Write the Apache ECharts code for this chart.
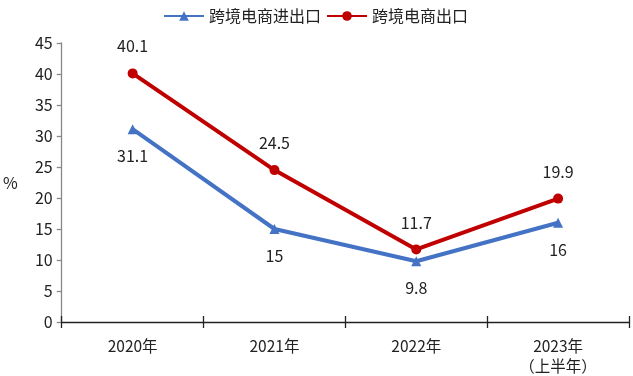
<!DOCTYPE html>
<html>
<head>
<meta charset="utf-8">
<script src="https://cdn.jsdelivr.net/npm/echarts@6/dist/echarts.min.js"></script>
<style>html,body{margin:0;padding:0;background:#fff}#c{width:633px;height:376px}</style>
</head>
<body>
<div id="c"></div>
<script>
const categories = ['2020年', '2021年', '2022年', '2023年\n（上半年）'];
const seriesNames = ['跨境电商进出口', '跨境电商出口'];
const importExport = [31.1, 15, 9.8, 16];
const exportOnly = [40.1, 24.5, 11.7, 19.9];
const yTicks = { min: 0, max: 45, interval: 5 };

const font = '"Noto Sans CJK SC", "Noto Sans", sans-serif';
const chart = echarts.init(document.getElementById('c'));
chart.setOption({
  animation: false,
  textStyle: { fontFamily: font },
  legend: {
    top: 3, left: 158, itemGap: 5, itemWidth: 40, itemHeight: 12,
    textStyle: { fontSize: 16, color: '#222', fontFamily: font },
    data: seriesNames
  },
  grid: { left: 58, right: 4, top: 43, bottom: 50, containLabel: false },
  xAxis: [{
    type: 'category', data: categories, boundaryGap: true,
    axisLine: { lineStyle: { color: '#222', width: 1.3 } },
    axisTick: { show: true, length: 6, lineStyle: { color: '#222', width: 1.3 } },
    axisLabel: { fontSize: 15.5, color: '#222', margin: 14, lineHeight: 20, fontFamily: font }
  }, {
    type: 'category', data: categories, boundaryGap: true, position: 'bottom',
    axisLine: { show: false },
    axisTick: { show: true, inside: true, length: 6, lineStyle: { color: '#222', width: 1.3 } },
    axisLabel: { show: false }
  }],
  yAxis: {
    type: 'value', min: yTicks.min, max: yTicks.max, interval: yTicks.interval,
    name: '%', nameLocation: 'middle', nameRotate: 0, nameGap: 44,
    nameTextStyle: { fontSize: 16, color: '#222', fontFamily: font },
    axisLine: { show: true, lineStyle: { color: '#888', width: 1.3 } },
    axisTick: { show: true, length: 5, lineStyle: { color: '#888', width: 1.3 } },
    splitLine: { show: false },
    axisLabel: { fontSize: 16, color: '#222', margin: 9, fontFamily: font }
  },
  series: [{
    name: seriesNames[0], type: 'line', data: importExport,
    symbol: 'triangle', symbolSize: 10,
    itemStyle: { color: '#4472C4' },
    lineStyle: { color: '#4472C4', width: 4 },
    label: { show: true, position: 'bottom', distance: 14, fontSize: 16, color: '#222', fontFamily: font },
    z: 3
  }, {
    name: seriesNames[1], type: 'line', data: exportOnly,
    symbol: 'circle', symbolSize: 10,
    itemStyle: { color: '#C00000' },
    lineStyle: { color: '#C00000', width: 4 },
    label: { show: true, position: 'top', distance: 14, fontSize: 16, color: '#222', fontFamily: font },
    z: 4
  }]
});
</script>
</body>
</html>
